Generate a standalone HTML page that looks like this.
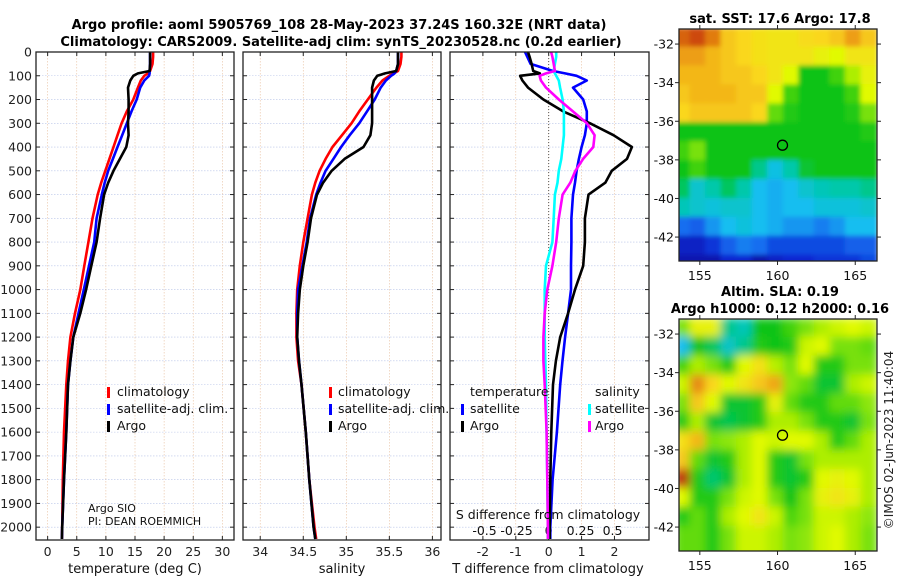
<!DOCTYPE html>
<html><head><meta charset="utf-8">
<style>
html,body{margin:0;padding:0;background:#fff;}
svg{display:block;font-family:"DejaVu Sans","Liberation Sans",sans-serif;}
</style></head>
<body>
<svg id="fig" width="900" height="580" viewBox="0 0 900 580" xmlns="http://www.w3.org/2000/svg">
<defs>
<filter id="blurA" x="-5%" y="-5%" width="110%" height="110%"><feGaussianBlur stdDeviation="2.5"/></filter>
<filter id="blurB" x="-5%" y="-5%" width="110%" height="110%"><feGaussianBlur stdDeviation="4.5"/></filter>
<clipPath id="clipMap1"><rect x="679" y="29" width="198" height="232"/></clipPath>
<clipPath id="clipMap2"><rect x="679" y="319" width="198" height="232"/></clipPath>
</defs>
<text x="339" y="29" text-anchor="middle" font-weight="bold" font-size="13">Argo profile: aoml 5905769_108 28-May-2023 37.24S 160.32E (NRT data)</text>
<text x="341" y="46" text-anchor="middle" font-weight="bold" font-size="13">Climatology: CARS2009. Satellite-adj clim: synTS_20230528.nc (0.2d earlier)</text>
<text x="780" y="23" text-anchor="middle" font-weight="bold" font-size="13">sat. SST: 17.6 Argo: 17.8</text>
<text x="780" y="296" text-anchor="middle" font-weight="bold" font-size="13">Altim. SLA: 0.19</text>
<text x="780" y="313" text-anchor="middle" font-weight="bold" font-size="13">Argo h1000: 0.12 h2000: 0.16</text>
<text transform="translate(893,440) rotate(-90)" text-anchor="middle" font-size="12" fill="#222">©IMOS 02-Jun-2023 11:40:04</text>
<g id="layer"></g>
</svg>
<script>
// ---------- data ----------
const depths = [0,20,50,80,90,100,120,150,200,250,300,350,400,450,500,550,600,700,800,900,1000,1100,1200,1300,1400,1600,1800,2000,2050];
const tempClim = [18.1,18.1,18.0,17.6,17.2,16.6,16.0,15.5,14.7,13.6,12.7,12.0,11.3,10.6,9.9,9.2,8.6,7.7,7.0,6.3,5.6,4.7,3.9,3.5,3.2,2.8,2.6,2.5,2.45];
const tempSat = [17.6,17.6,17.6,17.5,17.5,17.4,16.6,15.9,15.3,14.4,13.6,12.8,12.0,11.2,10.4,9.8,9.3,8.4,8.0,7.1,6.2,5.3,4.4,3.9,3.5,3.2,2.8,2.5,2.45];
const tempArgo = [17.6,17.6,17.6,17.5,15.5,14.7,14.2,13.8,13.9,13.9,13.8,13.9,13.5,12.4,11.3,10.4,9.7,9.0,8.4,7.5,6.6,5.6,4.4,3.9,3.5,3.2,2.8,2.5,2.45];
const salClim = [35.64,35.64,35.63,35.6,35.55,35.5,35.42,35.35,35.25,35.15,35.06,34.95,34.84,34.76,34.69,34.64,34.6,34.55,34.5,34.46,34.43,34.42,34.42,34.44,34.48,34.53,34.57,34.63,34.65];
const salSat = [35.6,35.6,35.6,35.58,35.56,35.52,35.46,35.4,35.33,35.24,35.15,35.04,34.94,34.85,34.76,34.7,34.65,34.58,34.54,34.49,34.44,34.43,34.43,34.45,34.48,34.53,34.57,34.62,34.64];
const salArgo = [35.6,35.6,35.6,35.58,35.45,35.36,35.32,35.3,35.3,35.3,35.3,35.28,35.2,34.98,34.83,34.73,34.66,34.59,34.55,34.5,34.46,34.44,34.43,34.45,34.48,34.53,34.57,34.62,34.64];
const dTsat = [-0.72,-0.65,-0.55,0.13,0.5,0.85,1.16,0.74,1.05,1.16,1.16,1.1,1.0,0.92,0.85,0.8,0.74,0.69,0.69,0.68,0.68,0.59,0.5,0.42,0.35,0.25,0.12,0.05,0.05];
const dTargo = [-0.63,-0.58,-0.52,-0.47,-0.27,-0.87,-0.8,-0.63,-0.16,0.44,1.26,1.97,2.53,2.38,1.92,1.72,1.21,1.1,1.1,1.05,0.8,0.59,0.35,0.22,0.13,0.08,0.05,0.03,0.03];
const dSsat = [0.06,0.06,0.05,0.04,0.05,0.06,0.08,0.09,0.11,0.12,0.12,0.12,0.11,0.1,0.08,0.07,0.05,0.04,0.03,-0.02,-0.03,-0.03,-0.03,-0.025,-0.02,-0.015,-0.01,-0.005,-0.005];
const dSargo = [0.02,0.03,0.04,0.05,-0.02,-0.07,-0.06,-0.02,0.08,0.19,0.3,0.36,0.35,0.27,0.21,0.17,0.11,0.08,0.06,0.03,-0.01,-0.03,-0.04,-0.04,-0.03,-0.015,-0.01,-0.005,-0.005];
const depthTicks = [0,100,200,300,400,500,600,700,800,900,1000,1100,1200,1300,1400,1500,1600,1700,1800,1900,2000];
const tempTicks = [0,5,10,15,20,25,30];
const salTicks = [34,34.5,35,35.5,36];
const salTickLabels = ["34","34.5","35","35.5","36"];
const dTTicks = [-2,-1,0,1,2];
const dSTicks = [-0.5,-0.25,0,0.25,0.5];
const dSTickLabels = ["-0.5","-0.25","0","0.25","0.5"];
const lonTicks = [155,160,165];
const latTicks = [-32,-34,-36,-38,-40,-42];
const sstGrid = [
[.9,.92,.88,.8,.78,.76,.75,.75,.77,.78,.8,.85,.8],
[.85,.85,.82,.8,.78,.76,.75,.75,.75,.72,.7,.75,.75],
[.82,.82,.82,.8,.8,.78,.75,.7,.5,.5,.55,.65,.72],
[.8,.82,.82,.82,.8,.8,.7,.55,.5,.5,.5,.55,.7],
[.78,.8,.8,.8,.8,.78,.58,.52,.5,.5,.5,.52,.6],
[.5,.5,.5,.5,.5,.5,.5,.5,.5,.5,.5,.5,.52],
[.55,.6,.5,.5,.5,.5,.5,.5,.5,.5,.5,.5,.5],
[.5,.55,.5,.5,.5,.42,.32,.4,.48,.5,.5,.5,.5],
[.45,.35,.4,.45,.4,.3,.28,.3,.35,.38,.4,.4,.42],
[.38,.35,.33,.35,.35,.3,.28,.3,.3,.33,.33,.33,.35],
[.2,.18,.25,.3,.33,.3,.28,.25,.25,.22,.25,.3,.3],
[.08,.08,.12,.18,.22,.2,.15,.15,.15,.15,.15,.18,.18],
[.05,.05,.05,.1,.1,.05,.08,.1,.1,.12,.12,.12,.15]];
const slaGrid = [
[.6,.72,.72,.42,.38,.5,.5,.55,.6,.65,.68,.7,.68],
[.3,.5,.45,.36,.42,.52,.5,.52,.68,.7,.6,.6,.58],
[.55,.65,.6,.52,.7,.76,.66,.6,.7,.52,.52,.6,.6],
[.68,.87,.78,.7,.75,.8,.84,.62,.58,.48,.48,.65,.68],
[.6,.8,.7,.48,.48,.52,.72,.58,.52,.52,.58,.58,.62],
[.52,.65,.48,.46,.48,.52,.65,.65,.6,.52,.52,.48,.6],
[.76,.82,.6,.62,.65,.7,.68,.7,.7,.65,.52,.58,.65],
[.8,.58,.48,.52,.65,.7,.52,.48,.6,.65,.65,.65,.65],
[.94,.52,.44,.48,.65,.7,.52,.48,.52,.7,.72,.7,.65],
[.7,.52,.52,.6,.68,.7,.6,.5,.6,.72,.75,.72,.65],
[.52,.58,.52,.65,.7,.75,.68,.56,.6,.68,.68,.65,.62],
[.58,.58,.52,.6,.68,.68,.65,.6,.62,.68,.7,.65,.6],
[.58,.58,.52,.6,.68,.68,.65,.6,.62,.68,.7,.65,.6]];
const floatLon = 160.32, floatLat = -37.24;

// ---------- helpers ----------
const NS = "http://www.w3.org/2000/svg";
const layer = document.getElementById('layer');
function mk(tag, attrs, parent){ const e=document.createElementNS(NS,tag); for(const k in attrs) e.setAttribute(k,attrs[k]); (parent||layer).appendChild(e); return e; }
const Y0=52, Y1=540, DMAX=2054;
const yDepth = d => Y0 + d/DMAX*(Y1-Y0);
function lin(d0,d1,r0,r1){ return v => r0 + (v-d0)/(d1-d0)*(r1-r0); }
const panels = [
 {x0:36,x1:234,name:'temperature'},
 {x0:243,x1:441,name:'salinity'},
 {x0:450,x1:649,name:'difference'}];
const xT = lin(-2,32,36,234);
const xS = lin(33.8,36.1,243,441);
const xdT = lin(-3,3.05,450,649);
const xdS = lin(-0.77,0.785,450,649);

function panelFrame(p, xTicksVals, xScale, labels, showY){
  const g = mk('g',{});
  
  
  depthTicks.forEach(d=>{ const y=yDepth(d);
    const l=mk('line',{x1:p.x0,x2:p.x1,y1:y,y2:y,stroke:'#b8c4e8','stroke-width':0.6,'stroke-dasharray':'1.5,1.5'},g);
     
    mk('line',{x1:p.x0,x2:p.x0+4,y1:y,y2:y,stroke:'#222'},g);
    mk('line',{x1:p.x1-4,x2:p.x1,y1:y,y2:y,stroke:'#222'},g);
    if(showY){ const t=mk('text',{x:32,y:y+4.5,'text-anchor':'end','font-size':12.5,fill:'#222'},g); t.textContent=d;
        }
  });
  xTicksVals.forEach((v,i)=>{ const x=xScale(v);
    const l=mk('line',{x1:x,x2:x,y1:Y0,y2:Y1,stroke:'#e8c0a0','stroke-width':0.6,'stroke-dasharray':'1.5,1.5'},g);
     
    mk('line',{x1:x,x2:x,y1:Y1-4,y2:Y1,stroke:'#222'},g);
    mk('line',{x1:x,x2:x,y1:Y0,y2:Y0+4,stroke:'#222'},g);
    const t=mk('text',{x:x,y:556,'text-anchor':'middle','font-size':12.5,fill:'#222'},g); t.textContent=labels[i];
     
  });
  return g;
}
function profile(vals, scale, color, name, width){
  let d=''; vals.forEach((v,i)=>{ d+=(i?'L':'M')+scale(v).toFixed(1)+','+yDepth(depths[i]).toFixed(1); });
  const p=mk('path',{d:d,fill:'none',stroke:color,'stroke-width':width||2.6,'stroke-linejoin':'round'});
  
  
  return p;
}
function txt(x,y,s,size,name,anchor){ const t=mk('text',{x:x,y:y,'font-size':size||12.5,fill:'#111','text-anchor':anchor||'start'}); t.textContent=s;
    return t; }
function legendMark(x,y,color,name){ const r=mk('rect',{x:x,y:y-9,width:3,height:11,fill:color});
    }

// Panel 1
panelFrame(panels[0], tempTicks, xT, tempTicks.map(String), true);
profile(tempClim, xT, '#f00', 'temp-climatology-line');
profile(tempSat, xT, '#00f', 'temp-satellite-line');
profile(tempArgo, xT, '#000', 'temp-argo-line');
txt(135,573,'temperature (deg C)',13,'x-axis-title-temperature','middle');
legendMark(107,396,'#f00','legend-mark-climatology'); txt(117,396,'climatology',12.5,'legend-entry-climatology');
legendMark(107,413,'#00f','legend-mark-satellite'); txt(117,413,'satellite-adj. clim.',12.5,'legend-entry-satellite');
legendMark(107,430,'#000','legend-mark-argo'); txt(117,430,'Argo',12.5,'legend-entry-argo');
txt(88,512,'Argo SIO',11,'pi-institution'); txt(88,525,'PI: DEAN ROEMMICH',11,'pi-name');

// Panel 2
panelFrame(panels[1], salTicks, xS, salTickLabels, false);
profile(salClim, xS, '#f00', 'sal-climatology-line');
profile(salSat, xS, '#00f', 'sal-satellite-line');
profile(salArgo, xS, '#000', 'sal-argo-line');
txt(342,573,'salinity',13,'x-axis-title-salinity','middle');
legendMark(329,396,'#f00','legend-mark-climatology-2'); txt(338,396,'climatology',12.5,'legend-entry-climatology-2');
legendMark(329,413,'#00f','legend-mark-satellite-2'); txt(338,413,'satellite-adj. clim.',12.5,'legend-entry-satellite-2');
legendMark(329,430,'#000','legend-mark-argo-2'); txt(338,430,'Argo',12.5,'legend-entry-argo-2');

// Panel 3
panelFrame(panels[2], dTTicks, xdT, dTTicks.map(String), false);
dSTicks.forEach((v,i)=>{ txt(xdS(v),535,dSTickLabels[i],12.5,'s-diff-tick-label','middle'); });
const zl=mk('line',{x1:xdT(0),x2:xdT(0),y1:Y0,y2:Y1,stroke:'#555','stroke-width':1,'stroke-dasharray':'1,2'});
 
profile(dTsat, xdT, '#00f', 'tdiff-satellite-line');
profile(dTargo, xdT, '#000', 'tdiff-argo-line');
profile(dSsat, xdS, '#0ff', 'sdiff-satellite-line');
profile(dSargo, xdS, '#f0f', 'sdiff-argo-line');
txt(548,519,'S difference from climatology',12.5,'s-diff-axis-title','middle');
txt(548,573,'T difference from climatology',13,'x-axis-title-tdiff','middle');
txt(470,396,'temperature',12.5,'legend-header-temperature'); txt(595,396,'salinity',12.5,'legend-header-salinity');
legendMark(461,413,'#00f','legend-mark-tsat'); txt(470,413,'satellite',12.5,'legend-entry-tsat');
legendMark(461,430,'#000','legend-mark-targo'); txt(470,430,'Argo',12.5,'legend-entry-targo');
legendMark(588,413,'#0ff','legend-mark-ssat'); txt(595,413,'satellite',12.5,'legend-entry-ssat');
legendMark(588,430,'#f0f','legend-mark-sargo'); txt(595,430,'Argo',12.5,'legend-entry-sargo');
panels.forEach(p=>{ const r=mk('rect',{x:p.x0,y:Y0,width:p.x1-p.x0,height:Y1-Y0,fill:'none',stroke:'#222','stroke-width':1.3});
    });

// ---------- maps ----------
const stops=[[0,[10,10,140]],[0.1,[10,40,210]],[0.2,[20,110,240]],[0.3,[20,190,240]],[0.4,[0,200,170]],[0.5,[10,195,20]],[0.6,[120,225,10]],[0.7,[225,250,0]],[0.78,[250,215,30]],[0.86,[235,150,20]],[0.93,[200,60,10]],[1,[150,20,10]]];
function cmap(v){ for(let i=1;i<stops.length;i++){ if(v<=stops[i][0]){ const a=stops[i-1],b=stops[i],t=(v-a[0])/(b[0]-a[0]);
  return 'rgb('+a[1].map((c,k)=>Math.round(c+(b[1][k]-c)*t)).join(',')+')'; } } return 'rgb(150,20,10)'; }
const xLon = lin(153.66,166.4,679,877);
function drawMap(grid, top, name, clip, blur){
  const yLat = lin(-31.22,-43.24,top,top+232);
  const g=mk('g',{'clip-path':'url(#'+clip+')'});
   
  const inner=mk('g',{filter:'url(#'+blur+')'},g);
  grid.forEach((row,r)=>row.forEach((v,c)=>{
    const x=xLon(154+c-0.6), y=yLat(-31.2-r*0.98);
    const cell=mk('rect',{x:x-1,y:y-1,width:xLon(155)-xLon(154)+2,height:yLat(-33)-yLat(-32)+2,fill:cmap(v)},inner);
     
  }));
  const fr=mk('rect',{x:679,y:top,width:198,height:232,fill:'none',stroke:'#222','stroke-width':1.3});
   
  lonTicks.forEach(v=>{ const x=xLon(v); mk('line',{x1:x,x2:x,y1:top,y2:top-4,stroke:'#222'}); mk('line',{x1:x,x2:x,y1:top+232,y2:top+236,stroke:'#222'});
    txt(x,top+251,String(v),12.5,'lon-tick-label','middle'); });
  latTicks.forEach(v=>{ const y=yLat(v); mk('line',{x1:675,x2:679,y1:y,y2:y,stroke:'#222'}); mk('line',{x1:877,x2:881,y1:y,y2:y,stroke:'#222'});
    txt(674,y+4.5,String(v),12.5,'lat-tick-label','end'); });
  const c=mk('circle',{cx:xLon(floatLon),cy:yLat(floatLat),r:5,fill:'none',stroke:'#000','stroke-width':1.3});
   
}
drawMap(sstGrid, 29, 'sst-map', 'clipMap1', 'blurA');
drawMap(slaGrid, 319, 'sla-map', 'clipMap2', 'blurB');
</script>
</body></html>
